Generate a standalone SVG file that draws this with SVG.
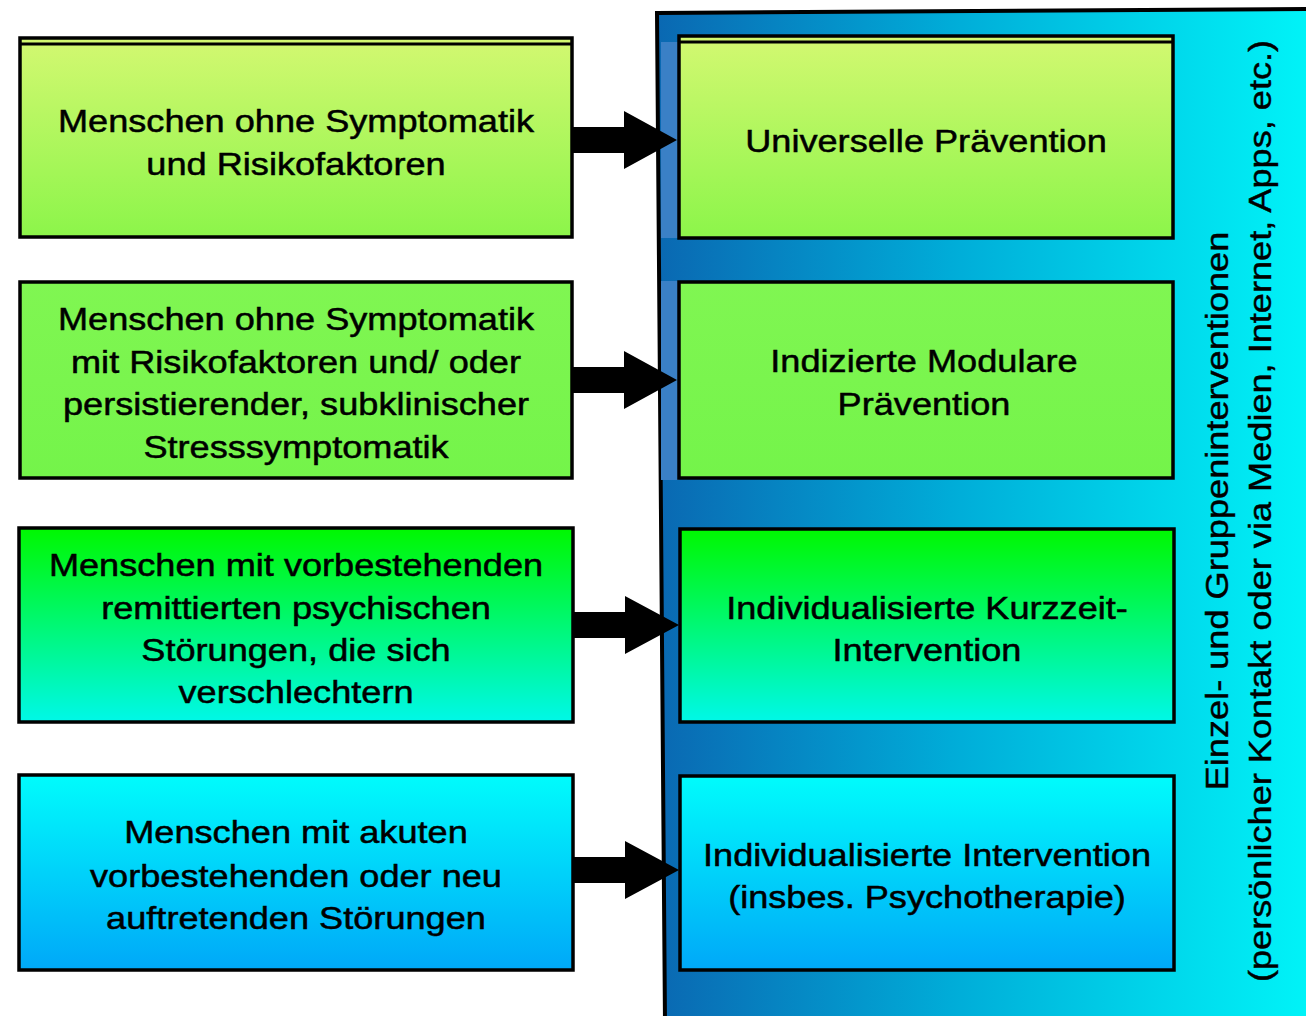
<svg xmlns="http://www.w3.org/2000/svg" width="1306" height="1016" viewBox="0 0 1306 1016">
<defs>
<linearGradient id="gYel" x1="0" y1="0" x2="0" y2="1"><stop offset="0" stop-color="#d3f871"/><stop offset="1" stop-color="#8cf54a"/></linearGradient>
<linearGradient id="gLime" x1="0" y1="0" x2="0" y2="1"><stop offset="0" stop-color="#80f652"/><stop offset="1" stop-color="#74f44a"/></linearGradient>
<linearGradient id="gGreen" x1="0" y1="0" x2="0" y2="1"><stop offset="0" stop-color="#00f800"/><stop offset="1" stop-color="#00f8e8"/></linearGradient>
<linearGradient id="gCyan" x1="0" y1="0" x2="0" y2="1"><stop offset="0" stop-color="#00fcfc"/><stop offset="1" stop-color="#00a8f8"/></linearGradient>
<linearGradient id="gBlue" x1="0" y1="0" x2="1" y2="0"><stop offset="0" stop-color="#0a68b2"/><stop offset="0.45" stop-color="#00acd8"/><stop offset="1" stop-color="#00f4f8"/></linearGradient>
</defs>
<style>
.box{stroke:#000;stroke-width:3.5}
.lbl{font-family:"Liberation Sans",Arial,sans-serif;font-size:32px;fill:#000;stroke:#000;stroke-width:0.5;text-anchor:middle}
.vlbl{font-family:"Liberation Sans",Arial,sans-serif;font-size:32px;fill:#000;stroke:#000;stroke-width:0.4;text-anchor:middle}
.arrow{fill:#000}
.strip{fill:#3a80c6}
</style>
<rect width="1306" height="1016" fill="#fff"/>
<g id="container">
<polygon points="657,13 1310,9 1310,1022 665,1022" fill="url(#gBlue)" stroke="#000" stroke-width="4"/>
<rect class="strip" x="661" y="42" width="18" height="196"/>
<rect class="strip" x="661" y="281" width="18" height="199"/>
<text class="vlbl" transform="translate(1228,511) rotate(-90) scale(1.13,1)" x="0" y="0">Einzel- und Gruppeninterventionen</text>
<text class="vlbl" transform="translate(1271,511) rotate(-90) scale(1.13,1)" x="0" y="0">(persönlicher Kontakt oder via Medien, Internet, Apps, etc.)</text>
</g>
<g id="connectors">
<polygon class="arrow" points="572,127 624,127 624,111 677,140 624,169 624,153 572,153"/>
<polygon class="arrow" points="572,367 624,367 624,351 677,380 624,409 624,393 572,393"/>
<polygon class="arrow" points="573,612 625,612 625,596 679,625 625,654 625,638 573,638"/>
<polygon class="arrow" points="573,857 625,857 625,841 679,870 625,899 625,883 573,883"/>
</g>
<g id="left1">
<rect class="box" x="20" y="38" width="552" height="199" fill="url(#gYel)"/>
<line x1="20" y1="44" x2="572" y2="44" stroke="#000" stroke-width="3"/>
<text class="lbl" transform="translate(296,132) scale(1.13,1)"><tspan x="0" y="0">Menschen ohne Symptomatik</tspan><tspan x="0" y="43">und Risikofaktoren</tspan></text>
</g>
<g id="left2">
<rect class="box" x="20" y="282" width="552" height="196" fill="url(#gLime)"/>
<text class="lbl" transform="translate(296,330) scale(1.13,1)"><tspan x="0" y="0">Menschen ohne Symptomatik</tspan><tspan x="0" y="43">mit Risikofaktoren und/ oder</tspan><tspan x="0" y="85">persistierender, subklinischer</tspan><tspan x="0" y="128">Stresssymptomatik</tspan></text>
</g>
<g id="left3">
<rect class="box" x="19" y="528" width="554" height="194" fill="url(#gGreen)"/>
<text class="lbl" transform="translate(296,576) scale(1.13,1)"><tspan x="0" y="0">Menschen mit vorbestehenden</tspan><tspan x="0" y="43">remittierten psychischen</tspan><tspan x="0" y="85">Störungen, die sich</tspan><tspan x="0" y="127">verschlechtern</tspan></text>
</g>
<g id="left4">
<rect class="box" x="19" y="775" width="554" height="195" fill="url(#gCyan)"/>
<text class="lbl" transform="translate(296,843) scale(1.13,1)"><tspan x="0" y="0">Menschen mit akuten</tspan><tspan x="0" y="44">vorbestehenden oder neu</tspan><tspan x="0" y="86">auftretenden Störungen</tspan></text>
</g>
<g id="right1">
<rect class="box" x="679" y="36" width="494" height="202" fill="url(#gYel)"/>
<line x1="679" y1="42" x2="1173" y2="42" stroke="#000" stroke-width="3"/>
<text class="lbl" transform="translate(926,152) scale(1.13,1)"><tspan x="0" y="0">Universelle Prävention</tspan></text>
</g>
<g id="right2">
<rect class="box" x="679" y="282" width="494" height="196" fill="url(#gLime)"/>
<text class="lbl" transform="translate(924,372) scale(1.13,1)"><tspan x="0" y="0">Indizierte Modulare</tspan><tspan x="0" y="43">Prävention</tspan></text>
</g>
<g id="right3">
<rect class="box" x="680" y="529" width="494" height="193" fill="url(#gGreen)"/>
<text class="lbl" transform="translate(927,619) scale(1.13,1)"><tspan x="0" y="0">Individualisierte Kurzzeit-</tspan><tspan x="0" y="42">Intervention</tspan></text>
</g>
<g id="right4">
<rect class="box" x="680" y="776" width="494" height="194" fill="url(#gCyan)"/>
<text class="lbl" transform="translate(927,866) scale(1.13,1)"><tspan x="0" y="0">Individualisierte Intervention</tspan><tspan x="0" y="42">(insbes. Psychotherapie)</tspan></text>
</g>
</svg>
